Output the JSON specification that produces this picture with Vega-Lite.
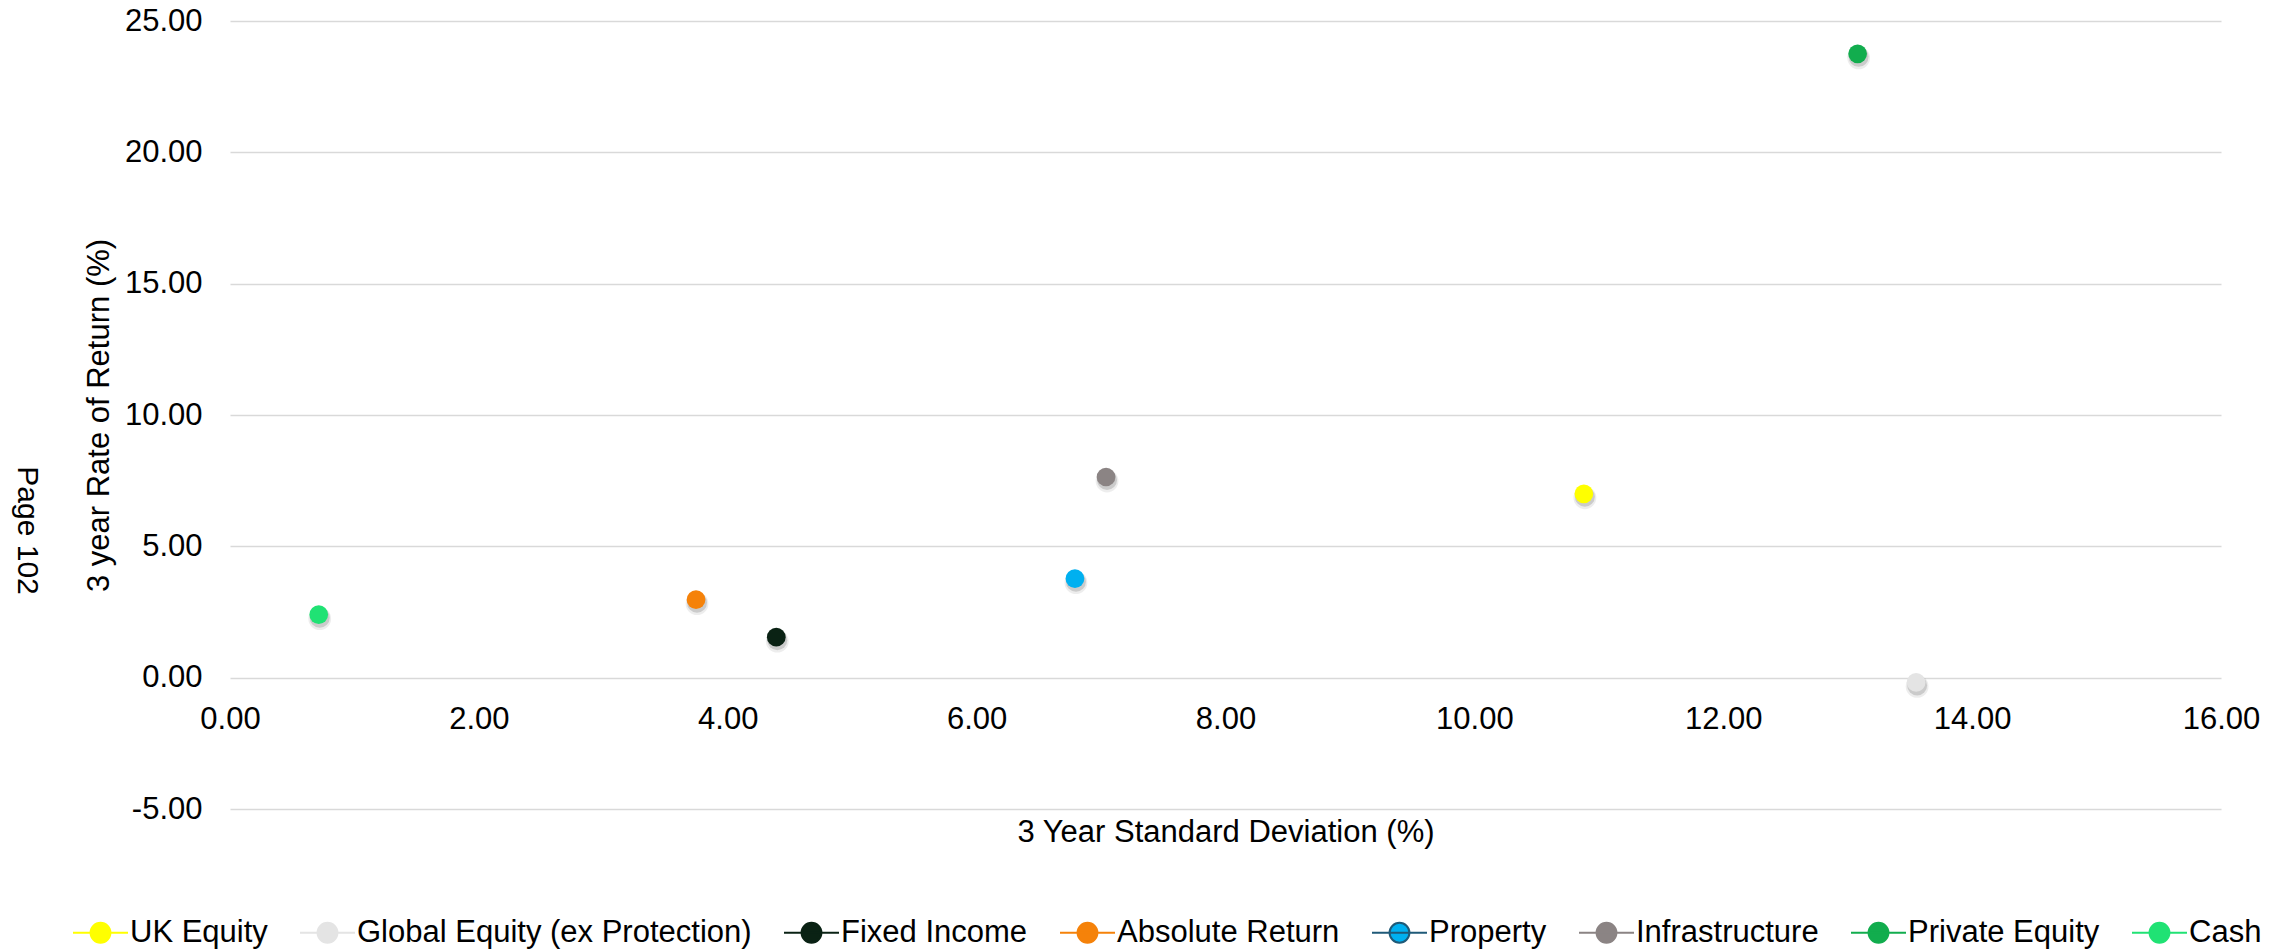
{
  "$schema": "https://vega.github.io/schema/vega-lite/v6.json",
  "autosize": "none",
  "width": 1991,
  "height": 788,
  "padding": {"left": 230, "top": 21, "right": 74, "bottom": 142},
  "background": "#ffffff",
  "config": {
    "view": {"stroke": null},
    "font": "Liberation Sans",
    "axis": {
      "labelFont": "Liberation Sans",
      "titleFont": "Liberation Sans",
      "labelFontSize": 31,
      "titleFontSize": 31,
      "titleFontWeight": "normal",
      "labelColor": "#000000",
      "titleColor": "#000000",
      "labelFlush": false,
      "labelOverlap": false,
      "domain": false,
      "ticks": false,
      "tickSize": 0
    }
  },
  "data": {
    "values": [
      {"asset": "UK Equity", "sd": 10.88, "ret": 7.0},
      {"asset": "Global Equity (ex Protection)", "sd": 13.55, "ret": -0.18},
      {"asset": "Fixed Income", "sd": 4.39, "ret": 1.54},
      {"asset": "Absolute Return", "sd": 3.745, "ret": 2.97},
      {"asset": "Property", "sd": 6.79, "ret": 3.77},
      {"asset": "Infrastructure", "sd": 7.04, "ret": 7.64},
      {"asset": "Private Equity", "sd": 13.08, "ret": 23.75},
      {"asset": "Cash", "sd": 0.713, "ret": 2.4}
    ]
  },
  "layer": [
    {
      "mark": {"type": "point", "filled": true, "shape": "circle", "size": 520, "color": "#000000", "opacity": 0.07, "yOffset": 4, "xOffset": 1},
      "encoding": {
        "x": {
          "field": "sd",
          "type": "quantitative",
          "scale": {"domain": [0, 16], "nice": false, "zero": false},
          "axis": {
            "title": "3 Year Standard Deviation (%)",
            "format": ".2f",
            "values": [0, 2, 4, 6, 8, 10, 12, 14, 16],
            "grid": false,
            "offset": -131,
            "labelPadding": 26,
            "titlePadding": 83
          }
        },
        "y": {
          "field": "ret",
          "type": "quantitative",
          "scale": {"domain": [-5, 25], "nice": false, "zero": false},
          "axis": {
            "title": "3 year Rate of Return (%)",
            "values": [-5, 0, 5, 10, 15, 20, 25],
            "labelExpr": "datum.value < 0 ? '-' + format(-datum.value, '.2f') : format(datum.value, '.2f')",
            "grid": true,
            "gridColor": "#D9D9D9",
            "gridWidth": 1.5,
            "labelPadding": 28,
            "titlePadding": 9
          }
        }
      }
    },
    {
      "mark": {"type": "point", "filled": true, "shape": "circle", "size": 400, "color": "#000000", "opacity": 0.14, "yOffset": 3, "xOffset": 1},
      "encoding": {
        "x": {"field": "sd", "type": "quantitative"},
        "y": {"field": "ret", "type": "quantitative"}
      }
    },
    {
      "mark": {"type": "point", "filled": true, "shape": "circle", "size": 350, "opacity": 1},
      "encoding": {
        "x": {"field": "sd", "type": "quantitative"},
        "y": {"field": "ret", "type": "quantitative"},
        "color": {
          "field": "asset",
          "type": "nominal",
          "scale": {
            "domain": ["UK Equity", "Global Equity (ex Protection)", "Fixed Income", "Absolute Return", "Property", "Infrastructure", "Private Equity", "Cash"],
            "range": ["#FFFF00", "#E4E4E4", "#0A2214", "#F5820A", "#00B0F0", "#8B8484", "#12AD4E", "#20E274"]
          },
          "legend": {
            "title": null,
            "orient": "none",
            "legendX": -158,
            "legendY": 883,
            "direction": "horizontal",
            "columns": 8,
            "columnPadding": 28,
            "padding": 0,
            "symbolType": "M-1,0H1M-0.36,0A0.36,0.36 0 1 0 0.36,0A0.36,0.36 0 1 0 -0.36,0Z",
            "symbolSize": 3025,
            "symbolStrokeWidth": 2,
            "symbolOpacity": 1,
            "labelFont": "Liberation Sans",
            "labelFontSize": 31,
            "labelColor": "#000000",
            "labelOffset": 1,
            "labelLimit": 0,
            "encode": {
              "symbols": {
                "update": {
                  "stroke": {"signal": "datum.value === 'Property' ? '#1F5A78' : scale('color', datum.value)"},
                  "strokeWidth": {"value": 2}
                }
              }
            }
          }
        }
      }
    },
    {
      "data": {"values": [{"page": "Page 102", "sd": -1.63, "ret": 5.6}]},
      "mark": {"type": "text", "angle": 90, "align": "center", "baseline": "middle", "font": "Liberation Sans", "fontSize": 30, "color": "#000000", "clip": false},
      "encoding": {
        "x": {"field": "sd", "type": "quantitative"},
        "y": {"field": "ret", "type": "quantitative"},
        "text": {"field": "page", "type": "nominal"}
      }
    }
  ]
}
